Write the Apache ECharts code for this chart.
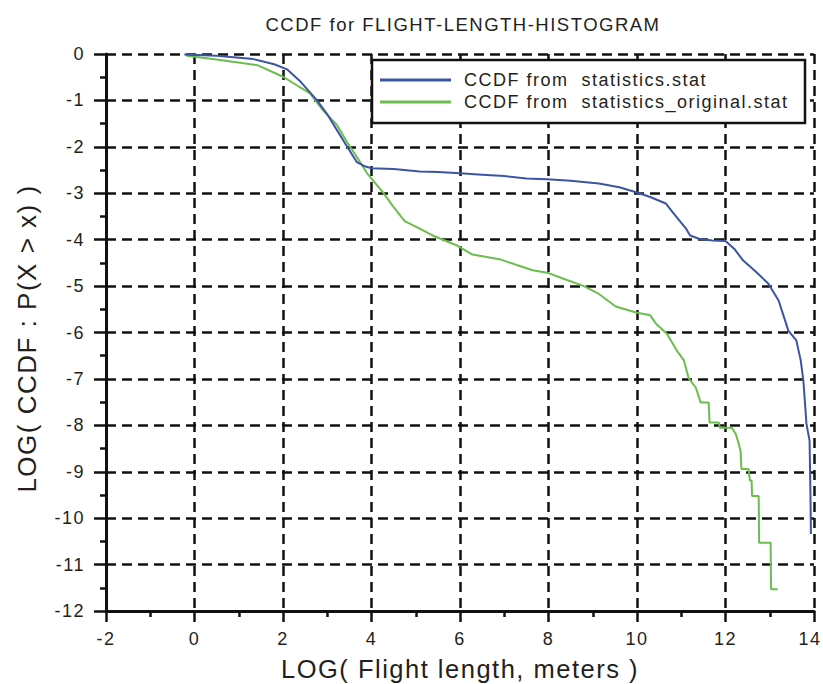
<!DOCTYPE html>
<html><head><meta charset="utf-8">
<script src="https://cdn.jsdelivr.net/npm/echarts@6/dist/echarts.min.js"></script>
<style>html,body{margin:0;padding:0;background:#fff}#c{width:823px;height:684px}#c text{letter-spacing:1.5px}</style>
</head><body><div id="c"></div>
<script>
const titleText = 'CCDF for FLIGHT-LENGTH-HISTOGRAM';
const xName = 'LOG( Flight length, meters )';
const yName = 'LOG( CCDF : P(X > x) )';
const seriesNames = ['CCDF from  statistics.stat', 'CCDF from  statistics_original.stat'];
const blueX = [-0.23,0.5,1.33,1.8,2.09,2.4,2.77,3.0,3.22,3.45,3.67,3.85,4.0,4.5,5.09,5.5,6.0,6.5,7.0,7.5,7.97,8.5,9.14,9.6,9.98,10.3,10.65,10.8,10.95,11.1,11.2,11.4,11.7,12.0,12.2,12.4,12.7,12.97,13.2,13.42,13.6,13.7,13.76,13.83,13.9,13.92,13.93];
const blueY = [-0.01,-0.04,-0.11,-0.22,-0.33,-0.6,-1.0,-1.3,-1.64,-2.0,-2.33,-2.42,-2.46,-2.48,-2.53,-2.54,-2.57,-2.6,-2.63,-2.68,-2.7,-2.73,-2.79,-2.87,-2.98,-3.08,-3.22,-3.4,-3.58,-3.75,-3.91,-3.98,-4.02,-4.03,-4.2,-4.45,-4.7,-4.95,-5.31,-5.96,-6.17,-6.6,-7.04,-7.97,-8.33,-9.5,-10.34];
const greenX = [-0.18,0.5,1.42,2.0,2.61,2.9,3.22,3.45,3.67,3.9,4.26,4.5,4.75,5.09,5.38,5.92,6.28,6.89,7.3,7.64,8.0,8.31,8.8,9.14,9.52,9.98,10.3,10.43,10.68,10.9,11.06,11.17,11.33,11.44,11.62,11.64,11.85,11.87,12.14,12.23,12.3,12.34,12.36,12.52,12.55,12.59,12.6,12.75,12.76,13.02,13.03,13.18];
const greenY = [-0.04,-0.12,-0.24,-0.49,-0.85,-1.21,-1.53,-1.9,-2.22,-2.57,-2.98,-3.3,-3.6,-3.76,-3.91,-4.12,-4.32,-4.42,-4.55,-4.66,-4.72,-4.83,-5.0,-5.17,-5.44,-5.57,-5.63,-5.81,-6.03,-6.39,-6.6,-6.99,-7.19,-7.51,-7.51,-7.94,-7.94,-8.05,-8.05,-8.18,-8.4,-8.55,-8.94,-8.94,-9.19,-9.19,-9.52,-9.52,-10.53,-10.53,-11.53,-11.53];
const colors = ['#3b55a3', '#6cbd4f'];

const FONT = '"Liberation Sans", Arial, sans-serif';
const TXT = '#231f20';
const chart = echarts.init(document.getElementById('c'), null, {renderer: 'svg'});
const pair = (xs, ys) => xs.map((x, i) => [x, ys[i]]);
chart.setOption({
  animation: false,
  backgroundColor: '#fff',
  title: {text: titleText, left: 458, top: 10, textAlign: 'center',
    textStyle: {fontFamily: FONT, fontSize: 18.5, fontWeight: 'normal', color: TXT}},
  grid: {left: 106, right: 9, top: 54, bottom: 73, outerBoundsMode: 'none', containLabel: false},
  legend: {
    left: 380, top: 71, orient: 'vertical', itemGap: 4, padding: 0,
    itemWidth: 71, itemHeight: 3,
    textStyle: {fontFamily: FONT, fontSize: 18, color: TXT, padding: [0,0,0,8]},
    data: seriesNames.map((n,i)=>({name: n, icon: 'rect', itemStyle:{color: colors[i]}}))
  },
  graphic: [{type:'rect', z: 3, shape:{x:372, y:60, width:433, height:63},
    style:{fill:'#fff', stroke:'#111', lineWidth:2.5}}],
  xAxis: {
    type: 'value', min: -2, max: 14, interval: 2,
    name: xName, nameLocation: 'middle', nameGap: 45,
    nameTextStyle: {fontFamily: FONT, fontSize: 25.5, color: TXT},
    axisLine: {show: true, onZero: false, lineStyle: {color: '#111', width: 3}},
    axisTick: {show: true, inside: false, length: 11, lineStyle: {color: '#111', width: 2.5}},
    minorTick: {show: true, splitNumber: 2, length: 6, lineStyle: {color: '#111', width: 2.5}},
    axisLabel: {fontFamily: FONT, fontSize: 18, color: TXT, margin: 19,
      formatter: v => v === 14 ? '{last|' + v + '}' : String(v),
      rich: {last: {fontFamily: FONT, fontSize: 18, color: TXT, padding: [0, 8, 0, 0]}}},
    splitLine: {show: true, lineStyle: {color: '#111', width: 2.5, type: [10, 6]}}
  },
  yAxis: {
    type: 'value', min: -12, max: 0, interval: 1,
    name: yName, nameLocation: 'middle', nameGap: 66, nameRotate: 90,
    nameTextStyle: {fontFamily: FONT, fontSize: 26, color: TXT, padding: [0, 12, 0, 0]},
    axisLine: {show: true, onZero: false, lineStyle: {color: '#111', width: 3}},
    axisTick: {show: true, inside: false, length: 12, lineStyle: {color: '#111', width: 2.5}},
    minorTick: {show: true, splitNumber: 2, length: 6, lineStyle: {color: '#111', width: 2.5}},
    axisLabel: {fontFamily: FONT, fontSize: 18, color: TXT, margin: 21},
    splitLine: {show: true, lineStyle: {color: '#111', width: 2.5, type: [10, 6]}}
  },
  series: [
    {name: seriesNames[0], type: 'line', data: pair(blueX, blueY), showSymbol: false, symbol: 'none',
      lineStyle: {color: colors[0], width: 2}, itemStyle:{color: colors[0]}, z: 5},
    {name: seriesNames[1], type: 'line', data: pair(greenX, greenY), showSymbol: false, symbol: 'none',
      lineStyle: {color: colors[1], width: 2}, itemStyle:{color: colors[1]}, z: 4}
  ]
});
</script></body></html>
